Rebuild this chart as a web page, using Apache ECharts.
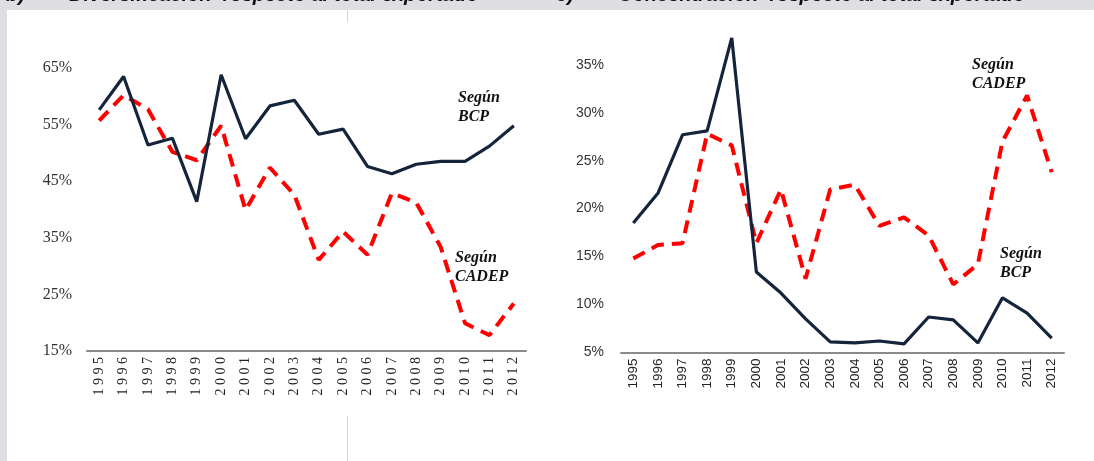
<!DOCTYPE html>
<html><head><meta charset="utf-8">
<script src="https://cdn.jsdelivr.net/npm/echarts@6/dist/echarts.min.js"></script>
<style>html,body{margin:0;padding:0;background:#fff}#c{width:1094px;height:461px}</style>
</head><body><div id="c"></div><script>
const years = ['1995','1996','1997','1998','1999','2000','2001','2002','2003','2004','2005','2006','2007','2008','2009','2010','2011','2012'];
// Left panel (%)
const leftBCP   = [57.6,63.5,51.4,52.6,41.4,63.8,52.5,58.3,59.3,53.3,54.2,47.6,46.3,48.0,48.5,48.5,51.2,54.8];
const leftCADEP = [55.7,60.2,57.7,50.2,48.7,54.8,39.9,47.4,42.6,31.1,36.1,32.0,42.9,41.2,33.4,19.9,17.8,23.4];
// Right panel (%)
const rightBCP   = [18.5,21.6,27.7,28.1,37.8,13.4,11.2,8.5,6.1,6.0,6.2,5.9,8.7,8.4,6.0,10.7,9.1,6.5];
const rightCADEP = [14.8,16.2,16.4,27.8,26.6,16.4,22.0,12.7,22.0,22.5,18.2,19.1,17.2,12.1,14.2,27.0,31.8,23.8];
const leftTicks  = [15,25,35,45,55,65];
const rightTicks = [5,10,15,20,25,30,35];
const labelBCP = 'Según\nBCP';
const labelCADEP = 'Según\nCADEP';
const headerText = 'b)        Diversificación  respecto al total exportado              c)        Concentración  respecto al total exportado';

const NAVY = '#14243b', RED = '#ff0000';
const chart = echarts.init(document.getElementById('c'), null, {renderer:'canvas'});

function xAxisFor(idx, serif){
  return {
    type:'category', gridIndex: idx, data: years, boundaryGap: true,
    axisLine:{show:true, lineStyle:{color:'#8a8a8a', width:2}},
    axisTick:{show:false},
    axisLabel:{
      rotate:90, interval:0, margin:6,
      color:'#222',
      fontFamily: serif ? '"Liberation Serif","Times New Roman",serif' : '"Liberation Sans",Arial,sans-serif',
      fontSize: serif ? 14 : 13.5,
      formatter: serif ? (v => v.split('').join(' ')) : (v => v)
    }
  };
}

const annoFont = 'italic bold 16px "Liberation Serif","Times New Roman",serif';
function anno(text, x, y){
  return {type:'text', left:x, top:y, z:10, style:{text:text, font:annoFont, fill:'#111', lineHeight:19}};
}

chart.setOption({
  animation:false,
  backgroundColor:'#ffffff',
  grid:[
    {left:87, top:68, width:439, height:283},
    {left:621, top:36, width:443, height:316.5}
  ],
  xAxis:[ xAxisFor(0,true), xAxisFor(1,false) ],
  yAxis:[
    {type:'value', gridIndex:0, min:leftTicks[0], max:leftTicks[leftTicks.length-1], interval:10,
     axisLine:{show:false}, axisTick:{show:false}, splitLine:{show:false},
     axisLabel:{formatter:'{value}%', margin:15, color:'#333', fontSize:16,
       fontFamily:'"Liberation Serif","Times New Roman",serif'}},
    {type:'value', gridIndex:1, min:rightTicks[0], max:38, interval:5,
     axisLine:{show:false}, axisTick:{show:false}, splitLine:{show:false},
     axisLabel:{formatter:'{value}%', margin:17, color:'#333', fontSize:14, showMaxLabel:false,
       fontFamily:'"Liberation Sans",Arial,sans-serif'}}
  ],
  series:[
    {type:'line', xAxisIndex:0, yAxisIndex:0, data:leftBCP, symbol:'none', z:3,
     lineStyle:{color:NAVY, width:3.2}},
    {type:'line', xAxisIndex:0, yAxisIndex:0, data:leftCADEP, symbol:'none', z:2,
     lineStyle:{color:RED, width:4, type:[13,8]}},
    {type:'line', xAxisIndex:1, yAxisIndex:1, data:rightBCP, symbol:'none', z:3,
     lineStyle:{color:NAVY, width:3.2}},
    {type:'line', xAxisIndex:1, yAxisIndex:1, data:rightCADEP, symbol:'none', z:2,
     lineStyle:{color:RED, width:4, type:[13,8]}}
  ],
  graphic:[
    {type:'rect', shape:{x:0,y:0,width:1094,height:10}, style:{fill:'#dedee3'}, z:-1},
    {type:'rect', shape:{x:0,y:0,width:7,height:461}, style:{fill:'#dedee3'}, z:-1},
    {type:'text', x:6, y:-15, z:0, style:{text:headerText, font:'italic bold 20px "Liberation Sans",Arial,sans-serif', fill:'#111', verticalAlign:'top'}},
    {type:'rect', shape:{x:0,y:10,width:1094,height:20}, style:{fill:'#ffffff'}, z:0},
    {type:'rect', shape:{x:0,y:10,width:7,height:20}, style:{fill:'#dedee3'}, z:1},
    {type:'line', shape:{x1:347.5,y1:10,x2:347.5,y2:22}, style:{stroke:'#d4d4d4', lineWidth:1}, z:2},
    {type:'line', shape:{x1:347.5,y1:416,x2:347.5,y2:461}, style:{stroke:'#d4d4d4', lineWidth:1}},
    anno(labelBCP, 458, 88),
    anno(labelCADEP, 455, 248),
    anno(labelCADEP, 972, 55),
    anno(labelBCP, 1000, 244)
  ]
});
</script></body></html>
